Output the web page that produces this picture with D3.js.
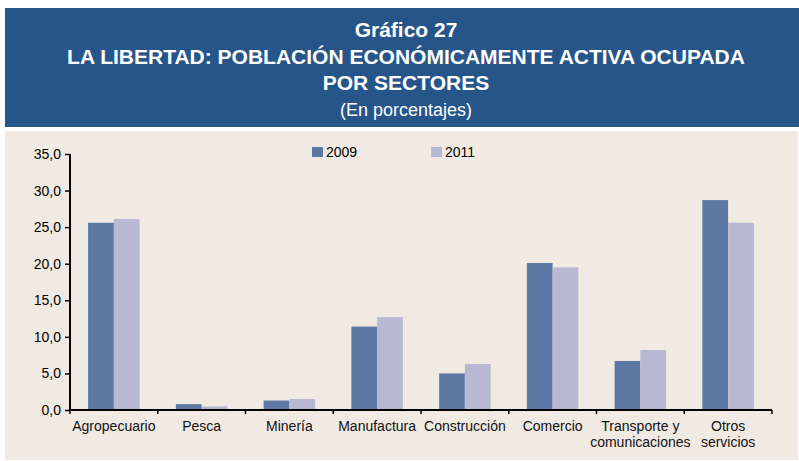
<!DOCTYPE html>
<html>
<head>
<meta charset="utf-8">
<script src="https://cdn.jsdelivr.net/npm/d3@7"></script>
<style>
html,body{margin:0;padding:0;background:#fff;}
svg{display:block;font-family:"Liberation Sans",Arial,sans-serif;}
</style>
</head>
<body>
<svg id="chart" width="799" height="461"></svg>
<script>
const categories = ["Agropecuario","Pesca","Minería","Manufactura","Construcción","Comercio","Transporte y|comunicaciones","Otros|servicios"];
const seriesNames = ["2009","2011"];
const values2009 = [25.6,0.8,1.3,11.4,5.0,20.1,6.7,28.7];
const values2011 = [26.1,0.5,1.5,12.7,6.3,19.5,8.2,25.6];
const yTicks = [0,5,10,15,20,25,30,35];
const titleLines = ["Gráfico 27","LA LIBERTAD: POBLACIÓN ECONÓMICAMENTE ACTIVA OCUPADA","POR SECTORES"];
const subtitle = "(En porcentajes)";

const colors = ["#5E78A5","#B8B8D2"];
const svg = d3.select("#chart");

// header banner
svg.append("rect").attr("x",5).attr("y",8).attr("width",794).attr("height",119).attr("fill","#26558A");
const tY = [37,64,90];
titleLines.forEach((t,i)=>{
  svg.append("text").attr("x",406).attr("y",tY[i]).attr("text-anchor","middle")
    .attr("fill","#fff").attr("font-weight","bold").attr("font-size","21px").text(t);
});
svg.append("text").attr("x",406).attr("y",116).attr("text-anchor","middle")
  .attr("fill","#fff").attr("font-size","18px").text(subtitle);

// chart background
svg.append("rect").attr("x",5).attr("y",131).attr("width",793).attr("height",329).attr("fill","#F0EAE3");

const x0 = d3.scaleBand().domain(d3.range(categories.length)).range([70,772]).paddingInner(0.413).paddingOuter(0.2065);
const x1 = d3.scaleBand().domain(seriesNames).range([0,x0.bandwidth()]);
const y = d3.scaleLinear().domain([0,35]).range([410,154]);

const data = [values2009, values2011];
seriesNames.forEach((s,si)=>{
  svg.append("g").selectAll("rect").data(data[si]).join("rect")
    .attr("x",(d,i)=>x0(i)+x1(s))
    .attr("y",d=>y(d))
    .attr("width",x1.bandwidth())
    .attr("height",d=>y(0)-y(d))
    .attr("fill",colors[si]);
});

// y axis
const yAxis = svg.append("g").attr("transform","translate(70,0)")
  .call(d3.axisLeft(y).tickValues(yTicks).tickSize(5).tickPadding(4)
    .tickFormat(d=>d3.format(".1f")(d).replace(".",",")));
yAxis.select(".domain").attr("stroke","#000").attr("stroke-width",2).attr("d","M0,154V410");
yAxis.selectAll(".tick line").attr("stroke","#000").attr("stroke-width",1.5);
yAxis.selectAll(".tick text").attr("font-size","14px").attr("fill","#000").attr("font-family","Liberation Sans, Arial, sans-serif");

// x axis
const step = x0.step();
const bounds = d3.range(categories.length+1).map(i=>70+i*step);
const xg = svg.append("g");
xg.append("line").attr("x1",70).attr("x2",772).attr("y1",410).attr("y2",410).attr("stroke","#000").attr("stroke-width",2);
xg.selectAll("line.tk").data(bounds).join("line").attr("class","tk")
  .attr("x1",d=>d).attr("x2",d=>d).attr("y1",410).attr("y2",414).attr("stroke","#000").attr("stroke-width",1.5);
categories.forEach((c,i)=>{
  const lines = c.split("|");
  const t = xg.append("text").attr("x",x0(i)+x0.bandwidth()/2).attr("y",431)
    .attr("text-anchor","middle").attr("font-size","14px").attr("fill","#111");
  lines.forEach((l,j)=>{
    t.append("tspan").attr("x",x0(i)+x0.bandwidth()/2).attr("dy",j===0?0:16).text(l);
  });
});

// legend
const legX = [312,431];
seriesNames.forEach((s,i)=>{
  svg.append("rect").attr("x",legX[i]).attr("y",147).attr("width",11).attr("height",10).attr("fill",colors[i]);
  svg.append("text").attr("x",legX[i]+14).attr("y",157).attr("font-size","14px").attr("fill","#000").text(s);
});
</script>
</body>
</html>
